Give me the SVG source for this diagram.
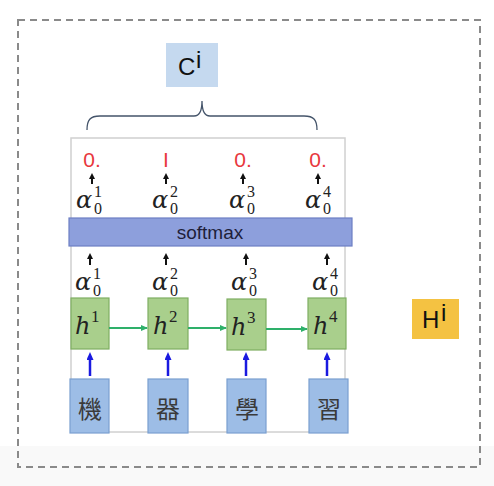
<svg xmlns="http://www.w3.org/2000/svg" width="494" height="486" viewBox="0 0 494 486">
<defs>
<style>
.frame{fill:none;stroke:#d0d0d0;stroke-width:1.5}
.dash{fill:none;stroke:#8a8a8a;stroke-width:2;stroke-dasharray:7,5}
.red{font-family:"Liberation Sans",Arial,sans-serif;font-size:21px;fill:#e8383d;text-anchor:middle}
.al{font-family:"DejaVu Serif","Liberation Serif",serif;font-style:italic;font-size:24px;fill:#222}
.sup{font-family:"Liberation Serif","DejaVu Serif",serif;font-size:16px;fill:#222}
.hh{font-family:"DejaVu Serif","Liberation Serif",serif;font-style:italic;font-size:24px;fill:#222}
.hs{font-family:"Liberation Serif","DejaVu Serif",serif;font-size:17px;fill:#222}
.green{fill:#a9cf8c;stroke:#7fae62;stroke-width:1.2}
.blue{fill:#9dbde6;stroke:#7a9fd0;stroke-width:1.2}
.cjk{font-family:"Noto Sans CJK TC","Noto Sans CJK SC",sans-serif;font-size:24px;fill:#3a3a3a;text-anchor:middle}
.lbl{font-family:"Liberation Sans",Arial,sans-serif;font-size:24px;fill:#111}
.blk{stroke:#111;stroke-width:2;fill:none}
.grn{stroke:#2eb06a;stroke-width:2;fill:none}
.blu{stroke:#1a1ae0;stroke-width:2.5;fill:none}
</style>
<marker id="ak" markerWidth="6" markerHeight="6" refX="3" refY="3" orient="auto" markerUnits="userSpaceOnUse"><path d="M0,0 L6,3 L0,6 z" fill="#111"/></marker>
<marker id="ag" markerWidth="7" markerHeight="6" refX="6" refY="3" orient="auto" markerUnits="userSpaceOnUse"><path d="M0,0 L7,3 L0,6 z" fill="#2eb06a"/></marker>
<marker id="ab" markerWidth="8" markerHeight="7" refX="4" refY="3.5" orient="auto" markerUnits="userSpaceOnUse"><path d="M0,0 L8,3.5 L0,7 z" fill="#1a1ae0"/></marker>
</defs>
<rect x="0" y="0" width="494" height="486" fill="#ffffff"/>
<rect x="0" y="446" width="494" height="40" fill="#f9f9f9"/>
<rect x="18" y="20" width="462" height="447" class="dash"/>
<rect x="71" y="138" width="274" height="294" class="frame"/>

<g id="ci">
<rect x="166" y="43" width="52" height="44" fill="#c5d9ef"/>
<text x="178" y="75" class="lbl">C</text>
<text x="196" y="68" class="lbl" font-size="14">i</text>
</g>
<g id="brace">
<path d="M87,130 C87,120 90,116 100,116 L194,116 C200,116 202,110 202,101 C202,110 204,116 210,116 L304,116 C314,116 317,120 317,130" fill="none" stroke="#44546a" stroke-width="1.3"/>
</g>

<g id="outputs">
<text x="92" y="167" class="red">0.</text>
<text x="166" y="167" class="red">I</text>
<text x="243" y="167" class="red">0.</text>
<text x="318" y="167" class="red">0.</text>
</g>

<g id="alpha-top">
<text x="76" y="208" class="al">α</text><text x="94" y="197" class="sup">1</text><text x="94" y="214" class="sup">0</text>
<text x="152" y="208" class="al">α</text><text x="170" y="197" class="sup">2</text><text x="170" y="214" class="sup">0</text>
<text x="229" y="208" class="al">α</text><text x="247" y="197" class="sup">3</text><text x="247" y="214" class="sup">0</text>
<text x="305" y="208" class="al">α</text><text x="323" y="197" class="sup">4</text><text x="323" y="214" class="sup">0</text>
</g>

<g id="softmax">
<rect x="69" y="218" width="283" height="28" fill="#8d9fdc" stroke="#6d7fc4" stroke-width="1.2"/>
<text x="210" y="239" font-family="'Liberation Sans',Arial,sans-serif" font-size="19" fill="#1e1e3a" text-anchor="middle">softmax</text>
</g>

<g id="alpha-bottom">
<text x="75" y="290" class="al">α</text><text x="93" y="279" class="sup">1</text><text x="93" y="296" class="sup">0</text>
<text x="152" y="290" class="al">α</text><text x="170" y="279" class="sup">2</text><text x="170" y="296" class="sup">0</text>
<text x="231" y="290" class="al">α</text><text x="249" y="279" class="sup">3</text><text x="249" y="296" class="sup">0</text>
<text x="312" y="290" class="al">α</text><text x="330" y="279" class="sup">4</text><text x="330" y="296" class="sup">0</text>
</g>

<g id="h1"><rect x="71" y="298" width="38" height="51" class="green"/><text x="75" y="334" class="hh">h</text><text x="91" y="322" class="hs">1</text></g>
<g id="h2"><rect x="148" y="298" width="40" height="51" class="green"/><text x="153" y="334" class="hh">h</text><text x="169" y="322" class="hs">2</text></g>
<g id="h3"><rect x="227" y="299" width="39" height="51" class="green"/><text x="231" y="335" class="hh">h</text><text x="247" y="323" class="hs">3</text></g>
<g id="h4"><rect x="308" y="298" width="38" height="51" class="green"/><text x="313" y="334" class="hh">h</text><text x="329" y="322" class="hs">4</text></g>

<g id="x1"><rect x="70" y="379" width="39" height="54" class="blue"/><text x="90" y="418" class="cjk">機</text></g>
<g id="x2"><rect x="148" y="379" width="40" height="54" class="blue"/><text x="168" y="418" class="cjk">器</text></g>
<g id="x3"><rect x="227" y="379" width="39" height="54" class="blue"/><text x="247" y="418" class="cjk">學</text></g>
<g id="x4"><rect x="309" y="379" width="39" height="54" class="blue"/><text x="329" y="418" class="cjk">習</text></g>

<g id="hi">
<rect x="412" y="299" width="47" height="40" fill="#f4c242"/>
<text x="422" y="328" class="lbl">H</text>
<text x="441" y="321" class="lbl" font-size="14">i</text>
</g>

<g id="connectors">
<line x1="92" y1="184" x2="92" y2="176" class="blk" marker-end="url(#ak)"/>
<line x1="166" y1="184" x2="166" y2="176" class="blk" marker-end="url(#ak)"/>
<line x1="243" y1="184" x2="243" y2="176" class="blk" marker-end="url(#ak)"/>
<line x1="318" y1="184" x2="318" y2="176" class="blk" marker-end="url(#ak)"/>
<line x1="90" y1="265" x2="90" y2="256" class="blk" marker-end="url(#ak)"/>
<line x1="166" y1="265" x2="166" y2="256" class="blk" marker-end="url(#ak)"/>
<line x1="246" y1="265" x2="246" y2="256" class="blk" marker-end="url(#ak)"/>
<line x1="327" y1="265" x2="327" y2="256" class="blk" marker-end="url(#ak)"/>
<line x1="109" y1="328" x2="147" y2="328" class="grn" marker-end="url(#ag)"/>
<line x1="188" y1="328" x2="226" y2="328" class="grn" marker-end="url(#ag)"/>
<line x1="266" y1="329" x2="307" y2="329" class="grn" marker-end="url(#ag)"/>
<line x1="90" y1="376" x2="90" y2="356" class="blu" marker-end="url(#ab)"/>
<line x1="168" y1="376" x2="168" y2="356" class="blu" marker-end="url(#ab)"/>
<line x1="246" y1="376" x2="246" y2="356" class="blu" marker-end="url(#ab)"/>
<line x1="327" y1="376" x2="327" y2="356" class="blu" marker-end="url(#ab)"/>
</g>
</svg>
